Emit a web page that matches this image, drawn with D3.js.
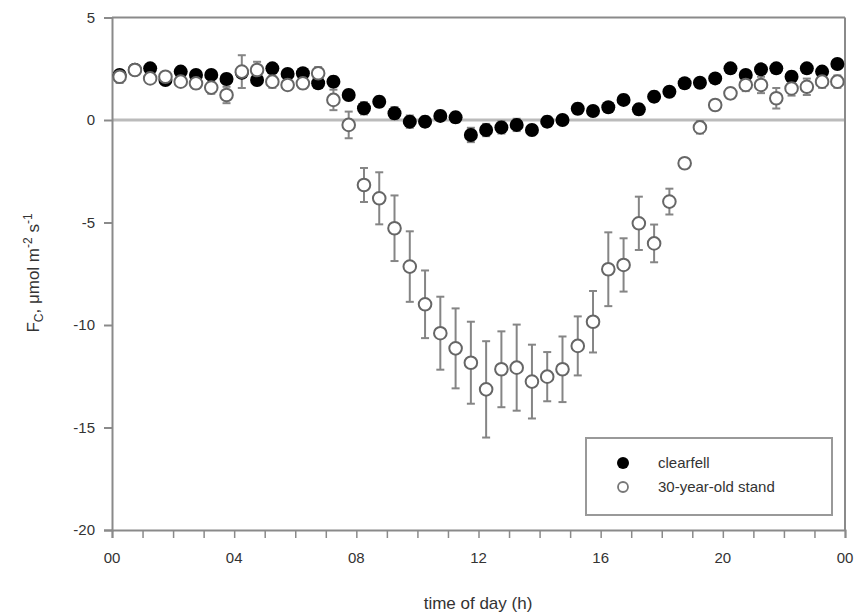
<!DOCTYPE html>
<html>
<head>
<meta charset="utf-8">
<script src="https://cdn.jsdelivr.net/npm/d3@7"></script>
<style>
  body { margin: 0; background: #fff; }
  text { font-family: "Liberation Sans", Arial, sans-serif; fill: #333; }
</style>
</head>
<body>
<script>
// half-hourly means, centred on :15 and :45
var hours = d3.range(48).map(function(i) { return 0.25 + 0.5 * i; });

var clearfell = [2.2, 2.45, 2.52, 1.95, 2.36, 2.2, 2.2, 2.0, 2.3, 1.95, 2.52, 2.25,
  2.28, 1.79, 1.87, 1.22, 0.57, 0.89, 0.33, -0.08, -0.08, 0.2, 0.13, -0.73,
  -0.49, -0.36, -0.24, -0.49, -0.08, 0.0, 0.55, 0.44, 0.62, 0.98, 0.52, 1.14,
  1.38, 1.79, 1.82, 2.03, 2.52, 2.2, 2.47, 2.52, 2.11, 2.52, 2.36, 2.73];
var clearfellErr = [0.2, 0.2, 0.2, 0.2, 0.2, 0.2, 0.2, 0.25, 0.2, 0.25, 0.2, 0.2,
  0.2, 0.2, 0.25, 0.25, 0.3, 0.25, 0.3, 0.3, 0.25, 0.25, 0.25, 0.35,
  0.3, 0.3, 0.3, 0.25, 0.25, 0.2, 0.25, 0.2, 0.2, 0.25, 0.25, 0.25,
  0.2, 0.2, 0.2, 0.2, 0.2, 0.2, 0.2, 0.2, 0.25, 0.2, 0.2, 0.2];

var stand = [2.11, 2.44, 2.03, 2.11, 1.87, 1.79, 1.58, 1.22, 2.36, 2.44, 1.87, 1.71,
  1.79, 2.28, 0.98, -0.24, -3.17, -3.82, -5.28, -7.15, -8.99, -10.4, -11.14, -11.84,
  -13.14, -12.16, -12.08, -12.76, -12.52, -12.16, -11.02, -9.84, -7.28, -7.07, -5.04, -6.02,
  -3.98, -2.11, -0.36, 0.73, 1.3, 1.71, 1.71, 1.06, 1.54, 1.62, 1.87, 1.87];
var standErr = [0.3, 0.2, 0.2, 0.2, 0.2, 0.25, 0.3, 0.4, 0.8, 0.4, 0.3, 0.25,
  0.25, 0.3, 0.5, 0.65, 0.83, 1.27, 1.6, 1.72, 1.65, 1.78, 1.95, 2.0,
  2.35, 1.85, 2.1, 1.8, 1.2, 1.6, 1.44, 1.5, 1.8, 1.3, 1.3, 0.92,
  0.63, 0.2, 0.3, 0.25, 0.25, 0.3, 0.4, 0.5, 0.35, 0.4, 0.3, 0.3];

var xTicks = [0, 4, 8, 12, 16, 20, 24];
var xTickLabels = ["00", "04", "08", "12", "16", "20", "00"];
var yTicks = [-20, -15, -10, -5, 0, 5];
var legendLabels = ["clearfell", "30-year-old stand"];

var width = 862, height = 616;
var axisCol = "#8a8a8a";

var svg = d3.select("body").append("svg")
  .attr("width", width)
  .attr("height", height);

var x = d3.scaleLinear().domain([0, 24]).range([112, 845]);
var y = d3.scaleLinear().domain([-20, 5]).range([530, 17.5]);

// zero line
svg.append("line")
  .attr("x1", x(0)).attr("x2", x(24))
  .attr("y1", y(0)).attr("y2", y(0))
  .attr("stroke", "#bbb").attr("stroke-width", 3);

// frame: top and right
svg.append("line")
  .attr("x1", x(0)).attr("x2", x(24)).attr("y1", y(5)).attr("y2", y(5))
  .attr("stroke", axisCol).attr("stroke-width", 2);
svg.append("line")
  .attr("x1", x(24)).attr("x2", x(24)).attr("y1", y(5)).attr("y2", y(-20))
  .attr("stroke", axisCol).attr("stroke-width", 2);

// x axis, minor ticks every hour
var xAxis = svg.append("g")
  .attr("transform", "translate(0," + y(-20) + ")")
  .call(d3.axisBottom(x).tickValues(d3.range(0, 25)).tickSize(8).tickFormat(""));
xAxis.select(".domain").attr("stroke", axisCol).attr("stroke-width", 2);
xAxis.selectAll(".tick line").attr("stroke", axisCol).attr("stroke-width", 1.5);

svg.selectAll(".xlab")
  .data(xTicks)
  .enter().append("text")
  .attr("class", "xlab")
  .attr("x", function(d) { return x(d); })
  .attr("y", 563)
  .attr("text-anchor", "middle")
  .attr("font-size", 15)
  .text(function(d, i) { return xTickLabels[i]; });

// y axis (plain hyphen for negatives, as in the original)
var yAxis = svg.append("g")
  .attr("transform", "translate(" + x(0) + ",0)")
  .call(d3.axisLeft(y).tickValues(yTicks).tickSize(8).tickPadding(9)
    .tickFormat(function(d) { return String(d); }));
yAxis.select(".domain").attr("stroke", axisCol).attr("stroke-width", 2);
yAxis.selectAll(".tick line").attr("stroke", axisCol).attr("stroke-width", 2);
yAxis.selectAll(".tick text")
  .attr("font-size", 15)
  .attr("font-family", "Liberation Sans, Arial, sans-serif")
  .attr("fill", "#333");

// axis titles
svg.append("text")
  .attr("x", 478).attr("y", 609)
  .attr("text-anchor", "middle")
  .attr("font-size", 17)
  .text("time of day (h)");

var yl = svg.append("text")
  .attr("transform", "translate(39,273) rotate(-90)")
  .attr("text-anchor", "middle")
  .attr("font-size", 17);
yl.append("tspan").text("F");
yl.append("tspan").attr("font-size", 12).attr("dy", 4).text("C");
yl.append("tspan").attr("dy", -4).text(", \u03bcmol m");
yl.append("tspan").attr("font-size", 12).attr("dy", -7).text("-2");
yl.append("tspan").attr("dy", 7).text(" s");
yl.append("tspan").attr("font-size", 12).attr("dy", -7).text("-1");

function drawErrors(vals, errs) {
  var g = svg.append("g")
    .attr("stroke", "#858585")
    .attr("stroke-width", 2);
  vals.forEach(function(v, i) {
    var cx = x(hours[i]);
    g.append("line")
      .attr("x1", cx).attr("x2", cx)
      .attr("y1", y(v + errs[i])).attr("y2", y(v - errs[i]));
    [v + errs[i], v - errs[i]].forEach(function(e) {
      g.append("line")
        .attr("x1", cx - 4).attr("x2", cx + 4)
        .attr("y1", y(e)).attr("y2", y(e));
    });
  });
}

drawErrors(clearfell, clearfellErr);
drawErrors(stand, standErr);

svg.append("g").selectAll("circle")
  .data(clearfell)
  .enter().append("circle")
  .attr("cx", function(d, i) { return x(hours[i]); })
  .attr("cy", function(d) { return y(d); })
  .attr("r", 7)
  .attr("fill", "#000");

svg.append("g").selectAll("circle")
  .data(stand)
  .enter().append("circle")
  .attr("cx", function(d, i) { return x(hours[i]); })
  .attr("cy", function(d) { return y(d); })
  .attr("r", 6.3)
  .attr("fill", "#fff")
  .attr("stroke", "#666")
  .attr("stroke-width", 2);

// legend
var lg = svg.append("g");
lg.append("rect")
  .attr("x", 586).attr("y", 438)
  .attr("width", 246).attr("height", 77)
  .attr("fill", "#fff")
  .attr("stroke", "#999").attr("stroke-width", 2);
lg.append("circle").attr("cx", 623).attr("cy", 463).attr("r", 6).attr("fill", "#000");
lg.append("circle").attr("cx", 623).attr("cy", 487).attr("r", 5)
  .attr("fill", "#fff").attr("stroke", "#777").attr("stroke-width", 1.8);
lg.selectAll(".lt")
  .data(legendLabels)
  .enter().append("text")
  .attr("class", "lt")
  .attr("x", 658)
  .attr("y", function(d, i) { return 468 + i * 24; })
  .attr("font-size", 15)
  .text(function(d) { return d; });
</script>
</body>
</html>
